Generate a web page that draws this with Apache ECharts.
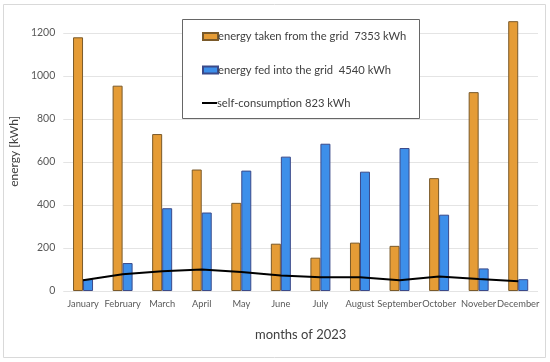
<!DOCTYPE html>
<html>
<head>
<meta charset="utf-8">
<script src="https://cdn.jsdelivr.net/npm/echarts@6/dist/echarts.min.js"></script>
<style>
html,body{margin:0;padding:0;background:#fff;}
#c{width:550px;height:362px;}
</style>
</head>
<body>
<div id="c"></div>
<script>
const months = ['January','February','March','April','May','June','July','August','September','October','Noveber','December'];
const gridTaken = [1180, 955, 730, 565, 410, 220, 155, 225, 210, 525, 925, 1255];
const gridFed = [55, 130, 385, 365, 560, 625, 685, 555, 665, 355, 105, 55];
const selfConsumption = [50, 78, 92, 100, 88, 72, 64, 64, 50, 68, 56, 45];
const seriesNames = ['energy taken from the grid  7353 kWh', 'energy fed into the grid  4540 kWh', 'self-consumption 823 kWh'];
const yTicks = [0, 200, 400, 600, 800, 1000, 1200];

const FONT = 'Lato';
const legendText = {color: '#404040', fontSize: 11.2, fontFamily: FONT, padding: [0, 0, 0, -5]};
const chart = echarts.init(document.getElementById('c'));
chart.setOption({
  animation: false,
  textStyle: {fontFamily: FONT},
  graphic: [
    {type: 'rect', shape: {x: 3.5, y: 4.5, width: 542, height: 353}, style: {fill: 'none', stroke: '#d9d9d9', lineWidth: 1}, z: -1},
    {type: 'rect', shape: {x: 182.5, y: 19.5, width: 237, height: 99}, style: {fill: '#fff', stroke: '#666', lineWidth: 1}, z: 5}
  ],
  grid: {left: 52, right: 12, top: 11.5, bottom: 71},
  legend: [{
    orient: 'vertical', left: 202, top: 31, z: 10,
    itemWidth: 15, itemHeight: 7, itemGap: 22.5, padding: 0,
    textStyle: legendText,
    data: [
      {name: seriesNames[0], icon: 'rect'},
      {name: seriesNames[1], icon: 'rect'}
    ]
  }, {
    orient: 'vertical', left: 202, top: 97.5, z: 10,
    itemWidth: 15, itemHeight: 2, padding: 0,
    textStyle: legendText,
    data: [{name: seriesNames[2], icon: 'rect'}]
  }],
  xAxis: {
    type: 'category', data: months,
    name: 'months of 2023', nameLocation: 'middle', nameGap: 37,
    nameTextStyle: {color: '#404040', fontSize: 13, fontFamily: FONT},
    axisLine: {show: false}, axisTick: {show: false},
    axisLabel: {color: '#595959', fontSize: 9.3, fontFamily: FONT, interval: 0, margin: 8}
  },
  yAxis: {
    type: 'value', min: 0, max: 1300, interval: 200,
    name: 'energy [kWh]', nameLocation: 'middle', nameGap: 31, nameRotate: 90,
    nameTextStyle: {color: '#404040', fontSize: 12, fontFamily: FONT},
    axisLine: {show: false}, axisTick: {show: false},
    axisLabel: {color: '#595959', fontSize: 10.5, fontFamily: FONT, showMaxLabel: false,
      formatter: v => yTicks.indexOf(v) >= 0 ? String(v) : ''},
    splitLine: {show: true, showMaxLine: false, lineStyle: {color: '#e4e4e4', width: 1}}
  },
  series: [
    {name: seriesNames[0], type: 'bar', data: gridTaken, barWidth: 10, barGap: '0%',
      itemStyle: {color: '#e59c36', borderColor: '#7a5a2a', borderWidth: 1}},
    {name: seriesNames[1], type: 'bar', data: gridFed, barWidth: 10, barGap: '0%',
      itemStyle: {color: '#3d8fea', borderColor: '#3b4a8a', borderWidth: 1}},
    {name: seriesNames[2], type: 'line', data: selfConsumption, symbol: 'none', z: 5,
      lineStyle: {color: '#000', width: 2}, itemStyle: {color: '#000'}}
  ]
});
</script>
</body>
</html>
